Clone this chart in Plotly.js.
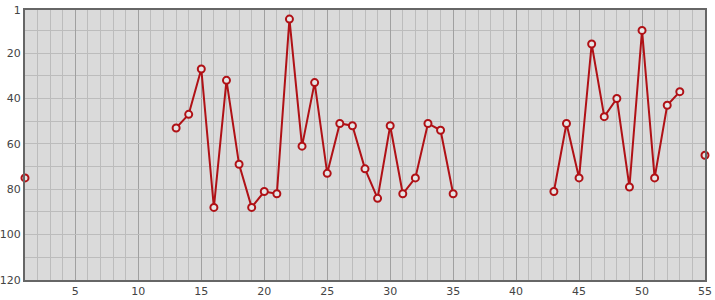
<!DOCTYPE html>
<html>
<head>
<meta charset="utf-8">
<script src="https://cdn.plot.ly/plotly-3.0.1.min.js"></script>
<style>html,body{margin:0;padding:0;background:#fff;}#chart{width:715px;height:300px;}</style>
</head>
<body>
<div id="chart"></div>
<script>
const xValues = [1,2,3,4,5,6,7,8,9,10,11,12,13,14,15,16,17,18,19,20,21,22,23,24,25,26,27,28,29,30,31,32,33,34,35,36,37,38,39,40,41,42,43,44,45,46,47,48,49,50,51,52,53,54,55];
const yValues = [75,null,null,null,null,null,null,null,null,null,null,null,53,47,27,88,32,69,88,81,82,5,61,33,73,51,52,71,84,52,82,75,51,54,82,null,null,null,null,null,null,null,81,51,75,16,48,40,79,10,75,43,37,null,65];
const yTickVals = [1,20,40,60,80,100,120];
const yTickText = ['1','20','40','60','80','100','120'];

const trace = {
  x: xValues, y: yValues, type: 'scatter', mode: 'lines+markers',
  connectgaps: false, cliponaxis: false,
  line: {color: '#b01116', width: 2},
  marker: {symbol: 'circle', size: 7, color: '#e6e6e6', line: {color: '#b01116', width: 2}},
  hoverinfo: 'x+y'
};

const layout = {
  width: 715, height: 300,
  margin: {l: 25, r: 10, t: 10, b: 20},
  paper_bgcolor: '#ffffff', plot_bgcolor: '#dadada',
  showlegend: false,
  font: {family: 'DejaVu Sans, sans-serif', size: 11, color: '#444'},
  xaxis: {
    range: [1, 55], tick0: 0, dtick: 5, showgrid: true, gridcolor: '#a0a0a0', gridwidth: 1,
    minor: {dtick: 1, tick0: 0, showgrid: true, gridcolor: '#bcbcbc', gridwidth: 1},
    showline: true, linecolor: '#666', linewidth: 2, mirror: true,
    zeroline: false, ticks: '', ticklen: 0, tickfont: {size: 11, color: '#444'}
  },
  yaxis: {
    range: [120, 1], tickmode: 'array', tickvals: yTickVals, ticktext: yTickText,
    showgrid: true, gridcolor: '#bcbcbc', gridwidth: 1,
    minor: {dtick: 10, tick0: 0, showgrid: true, gridcolor: '#bcbcbc', gridwidth: 1},
    showline: true, linecolor: '#666', linewidth: 2, mirror: true,
    zeroline: false, ticks: '', ticklen: 0, tickfont: {size: 11, color: '#444'}
  }
};

Plotly.newPlot('chart', [trace], layout, {displayModeBar: false, staticPlot: true});
</script>
</body>
</html>
